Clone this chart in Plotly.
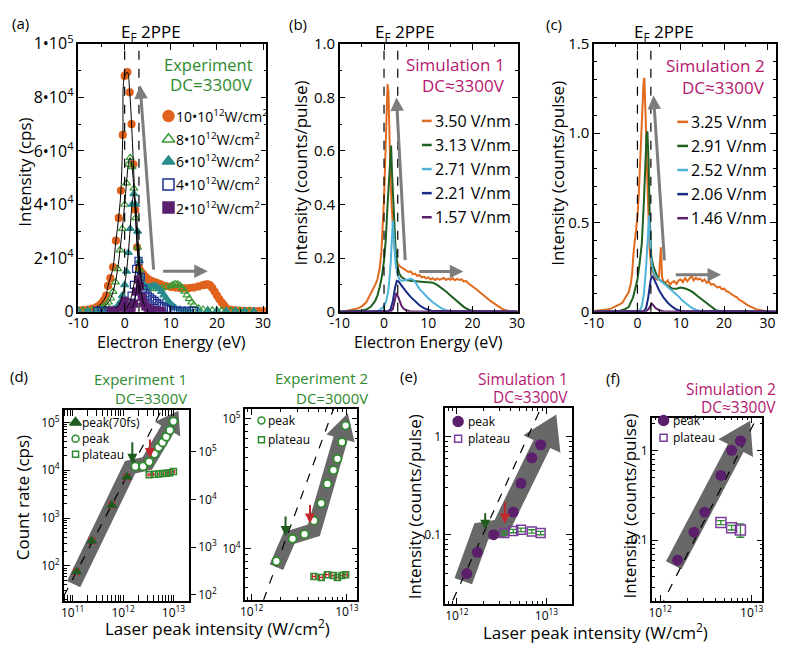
import numpy as np
import plotly.graph_objects as go

W, H = 787, 655
FONT = "Open Sans"

# ---------------- (a) Experiment spectra (eV, cps) ----------------
a10_e = [-10,-9,-8,-7,-6,-5.5,-5,-4.5,-4,-3.6, -3.1,-2.5,-1.9,-1.3,-0.8,-0.4,0,0.6,1.1,1.5,
         1.9,2.3,2.7,3.1,3.5,4,4.5,5,5.5,6, 6.5,7,7.5,8,9,10,11,12,13,14,
         15,16,17,17.5,18,18.5,19,19.5,20,20.5, 21,21.5,22,23,24,25,26,27,28,29, 30]
a10_i = [500,600,800,1100,1700,2300,3100,4300,6000,9600, 12500,16600,26500,35000,45200,66000,88000,89400,81900,70000,
         55000,38000,24000,16500,15000,14000,13000,12200,11700,11300, 11000,10700,10400,10000,9500,9200,9000,8800,8700,8800,
         9000,9400,9900,10100,10200,9800,8800,7500,6000,4700, 3500,2400,1300,700,500,400,300,300,200,200, 200]
a8_e = [-10,-9,-8,-7,-6,-5,-4.5,-4,-3.5,-3, -2.5,-2,-1.5,-1,-0.5,0,0.4,0.8,1.2,1.6,
        2.0,2.4,2.8,3.2,3.6,4,4.5,5,6,7, 8,9,10,10.5,11,11.5,12,12.5,13,13.5,
        14,14.5,15,16,17,18,19,20,21,22, 23,24,25,26,27]
a8_i = [300,300,400,500,800,1300,1800,2500,3500,5000, 7500,11000,16000,23000,31000,40000,48000,55000,57500,54000,
        46000,35000,24000,15500,11500,10000,9300,8900,8500,8600, 8800,9200,9600,10000,10300,10200,9700,8800,7600,6200,
        4800,3500,2500,1300,800,600,500,400,400,350, 300,300,250,250,200]
a6_e = [-10,-8,-6,-4,-3,-2.5,-2,-1.5,-1,-0.5, 0,0.4,0.8,1.2,1.6,2.0,2.4,2.8,3.2,3.6,
        4,4.5,5,5.5,6,6.5,7,7.5,8,8.5, 9,9.5,10,10.5,11,12,13,14,16,18, 20,22,24,26,28]
a6_i = [300,300,300,400,600,800,1200,2000,3500,6000, 10000,15000,22000,31000,40000,44000,40000,30000,19000,13000,
        10500,9500,9000,9200,9500,9600,9300,8500,7500,6200, 5000,3800,2800,2000,1400,800,500,400,300,300, 300,250,250,200,200]
a4_e = [-6,-5,-4,-3,-2,-1,0,0.5,1,1.5, 2,2.5,3,3.5,4,4.5,5,5.5,6,6.5, 7,7.5,8,8.5,9,10,11,12,13,14,15]
a4_i = [300,300,300,300,350,500,800,1500,3000,6000, 10000,16000,19000,13000,8500,6800,6000,5300,4600,4000,
        3300,2700,2100,1600,1100,700,400,300,300,300,300]
a2_e = [-3,-2,-1,-0.5,0,0.5,1,1.5,2,2.5, 2.9,3.3,3.7,4.1,4.5,5,5.5,6,7,8]
a2_i = [300,300,500,2000,4000,2000,800,1200,3000,7500, 12000,9500,5500,3200,2000,1300,900,600,400,300]
a_labels = ["10•10<sup>12</sup>W/cm<sup>2</sup>", "8•10<sup>12</sup>W/cm<sup>2</sup>", "6•10<sup>12</sup>W/cm<sup>2</sup>",
            "4•10<sup>12</sup>W/cm<sup>2</sup>", "2•10<sup>12</sup>W/cm<sup>2</sup>"]

# ---------------- (b) Simulation 1 spectra ----------------
b1_e = [-10,-8,-6,-5,-4,-3,-2.5,-2,-1.5,-1, -0.6,-0.3,0,0.3,0.6,0.8,1.0,1.25,1.5,1.7,
        2.0,2.3,2.7,3.1,3.5,4,4.5,5,5.5,6, 6.5,7,7.5,8,8.5,9,9.5,10,10.5,11,
        11.5,12,12.5,13,13.5,14,14.5,15,15.5,16, 16.5,17,17.5,18,18.5,19,19.5,20,20.5,21,
        21.5,22,22.5,23,23.5,24,24.5,25,25.5,26, 26.5,27,28,29,30.2]
b1_v = [0.0,0.004,0.012,0.02,0.035,0.065,0.08,0.1,0.12,0.16, 0.22,0.3,0.42,0.58,0.78,0.85,0.82,0.62,0.48,0.4,
        0.31,0.25,0.2,0.18,0.17,0.165,0.16,0.155,0.148,0.15, 0.14,0.142,0.133,0.137,0.128,0.131,0.124,0.128,0.12,0.125,
        0.118,0.124,0.119,0.122,0.126,0.118,0.123,0.119,0.125,0.117, 0.122,0.118,0.121,0.112,0.115,0.106,0.1,0.096,0.088,0.082,
        0.074,0.068,0.06,0.054,0.047,0.04,0.034,0.028,0.022,0.016, 0.011,0.007,0.003,0.001,0.0]
b2_e = [-10,-5,-4,-3,-2,-1.5,-1,-0.5,0,0.4, 0.8,1.1,1.4,1.6,1.8,2.0,2.3,2.6,3.0,3.5,
        4,4.5,5,6,7,8,9,10,11,12, 13,14,15,16,17,18,19,20,21,30.2]
b2_v = [0,0.004,0.008,0.018,0.04,0.06,0.09,0.13,0.19,0.27, 0.4,0.5,0.6,0.62,0.52,0.44,0.33,0.24,0.17,0.14,
        0.128,0.122,0.118,0.115,0.113,0.112,0.111,0.11,0.108,0.1, 0.088,0.075,0.06,0.045,0.03,0.018,0.008,0.003,0.001,0]
b3_e = [-10,-2,-1,0,0.5,1,1.5,1.8,2.0,2.3, 2.6,3,3.5,4,5,6,6.5,7,8,9, 10,11,12,13,14,15,16,30.2]
b3_v = [0,0.001,0.005,0.02,0.04,0.08,0.18,0.3,0.34,0.26, 0.18,0.14,0.12,0.115,0.12,0.123,0.12,0.112,0.085,0.066,
        0.05,0.035,0.022,0.012,0.005,0.002,0.0,0]
b4_e = [-10,1,1.5,2,2.5,2.9,3.3,3.8,4.5,5,6,7,8,9,10,11,30.2]
b4_v = [0,0.002,0.01,0.04,0.09,0.115,0.112,0.1,0.085,0.075,0.055,0.038,0.024,0.013,0.006,0.002,0]
b5_e = [-10,1.5,2,2.4,2.8,3.2,3.6,4,4.5,5,6,30.2]
b5_v = [0,0.001,0.01,0.04,0.07,0.055,0.035,0.02,0.01,0.005,0.001,0]
b_labels = ["3.50 V/nm", "3.13 V/nm", "2.71 V/nm", "2.21 V/nm", "1.57 V/nm"]

# ---------------- (c) Simulation 2 spectra ----------------
c1_e = [-10,-8,-7,-6,-5,-4,-3.5,-3,-2.5,-2, -1.5,-1.2,-0.9,-0.6,-0.3,0,0.3,0.6,0.9,1.2,
        1.4,1.6,1.8,2.0,2.2,2.5,2.8,3.2,3.6,4.0, 4.5,5,5.4,5.7,6,6.5,7,7.5,8,8.5,
        9,9.5,10,10.5,11,11.5,12,12.5,13,13.5, 14,14.5,15,15.5,16,16.5,17,17.5,18,18.5,
        19,19.5,20,20.5,21,21.5,22,22.5,23,23.5, 24,24.5,25,25.5,26,26.5,27,27.5,28,29, 30,32]
c1_v = [0.004,0.008,0.012,0.018,0.028,0.042,0.05,0.07,0.085,0.11, 0.16,0.22,0.33,0.4,0.45,0.53,0.65,0.83,1.0,1.15,
        1.28,1.31,1.2,1.0,0.8,0.55,0.35,0.25,0.215,0.19, 0.18,0.2,0.36,0.19,0.17,0.16,0.175,0.15,0.165,0.17,
        0.155,0.175,0.18,0.165,0.19,0.17,0.185,0.2,0.175,0.19, 0.18,0.185,0.17,0.18,0.16,0.17,0.15,0.155,0.145,0.135,
        0.14,0.125,0.13,0.115,0.11,0.1,0.095,0.085,0.08,0.065, 0.06,0.05,0.045,0.035,0.03,0.022,0.018,0.012,0.01,0.004,
        0.002,0]
c2_e = [-10,-4,-3,-2,-1,0,0.5,1,1.5,1.8, 2.1,2.3,2.55,2.85,3.2,3.6,4,4.5,5,6,
        7,8,9,10,11,12,13,14,15,16, 17,18,19,32]
c2_v = [0,0.005,0.012,0.027,0.08,0.18,0.27,0.38,0.62,0.82, 0.99,1.01,0.86,0.52,0.31,0.26,0.23,0.2,0.18,0.16,
        0.145,0.13,0.128,0.135,0.13,0.12,0.105,0.085,0.065,0.045, 0.025,0.01,0.003,0]
c3_e = [-10,0.5,1,1.5,2,2.4,2.7,3.0,3.3,3.8, 4.5,5.5,6.5,7.5,8.5,9.5,10.5,11.5,12.5,13.5, 14.5,32]
c3_v = [0,0.005,0.03,0.1,0.25,0.45,0.54,0.38,0.26,0.21, 0.19,0.17,0.15,0.13,0.11,0.085,0.06,0.04,0.022,0.01, 0.003,0]
c4_e = [-10,1.5,2,2.5,3,3.3,3.7,4.2,5,6,7,8,9,10,32]
c4_v = [0,0.003,0.02,0.08,0.17,0.2,0.19,0.16,0.12,0.08,0.05,0.028,0.012,0.004,0]
c5_e = [-10,2,2.6,3,3.3,3.7,4.2,5,6,32]
c5_v = [0,0.002,0.015,0.035,0.045,0.035,0.02,0.008,0.002,0]
c_labels = ["3.25 V/nm", "2.91 V/nm", "2.52 V/nm", "2.06 V/nm", "1.46 V/nm"]

# ---------------- (d) Experiment 1 / 2 (W/cm^2 vs cps) ----------------
d1_tri_x = [1.2e11, 2.4e11, 6.0e11, 1.2e12]
d1_tri_y = [76, 330, 1850, 7200]
d1_peak_x = [1.75e12, 2.5e12, 3.3e12, 4.2e12, 5.1e12, 6.1e12, 7.2e12, 8.5e12, 1.0e13]
d1_peak_y = [1.2e4, 1.2e4, 1.5e4, 2.2e4, 3.0e4, 3.8e4, 5.0e4, 6.8e4, 1.05e5]
d1_plat_x = [3.3e12, 4.2e12, 5.1e12, 6.1e12, 7.2e12, 8.5e12, 1.0e13]
d1_plat_y = [8.0e3, 8.2e3, 8.3e3, 8.5e3, 8.6e3, 8.8e3, 9.4e3]
d2_peak_x = [1.82e12, 2.69e12, 3.59e12, 4.51e12, 5.38e12, 6.24e12, 7.23e12, 7.96e12, 8.89e12, 9.7e12]
d2_peak_y = [8.0e3, 1.19e4, 1.29e4, 1.64e4, 2.23e4, 3.14e4, 4.01e4, 4.9e4, 6.59e4, 8.83e4]
d2_plat_x = [4.51e12, 5.38e12, 6.24e12, 7.23e12, 7.96e12, 8.89e12, 9.7e12]
d2_plat_y = [6.1e3, 6.0e3, 6.3e3, 6.2e3, 6.0e3, 6.2e3, 6.3e3]
# ---------------- (e), (f) simulations ----------------
e_peak_x = [1.29e12, 1.69e12, 2.57e12, 4.26e12, 5.2e12, 6.85e12, 8.6e12]
e_peak_y = [0.040, 0.066, 0.10, 0.17, 0.335, 0.61, 0.83]
e_plat_x = [3.37e12, 4.26e12, 5.2e12, 6.85e12, 8.6e12]
e_plat_y = [0.104, 0.109, 0.112, 0.108, 0.104]
f_peak_x = [1.55e12, 2.34e12, 3.06e12, 4.61e12, 6.04e12, 7.53e12]
f_peak_y = [0.060, 0.123, 0.205, 0.526, 1.0, 1.27]
f_plat_x = [4.61e12, 6.04e12, 7.53e12]
f_plat_y = [0.157, 0.138, 0.130]
f_plat_err = [0.008, 0.008, 0.022]

# ---------------- colours ----------------
ORANGE = "#e0621c"; GREEN_L = "#3c9a36"; TEAL = "#2a8c8c"; NAVY = "#1f2f8f"; PURPLE = "#5b1e6e"
S_ORANGE = "#e06a1e"; S_GREEN = "#1f5f20"; S_BLUE = "#4fb3d9"; S_NAVY = "#1c2a86"; S_PURPLE = "#5c1f6a"
T_GREEN = "#2e8a2e"; T_MAG = "#b5176f"; D_GREEN = "#1f5a1f"; RED = "#c0282d"; PUR = "#5b1f6b"; PUR_L = "#7b3d9b"
BAND = "rgba(88,88,88,0.9)"

# ---------------- panel geometry (pixels) ----------------
GEO = {
    "a": dict(x=(70, 262), y=(32, 310), xr=(-10, 30.7), yr=(0, 1e5)),
    "b": dict(x=(337, 519), y=(32, 310), xr=(-10, 30.2), yr=(0, 1.0)),
    "c": dict(x=(597, 783), y=(32, 310), xr=(-10, 32), yr=(0, 1.5)),
    "d1": dict(x=(55, 183), y=(412, 610), xr=(10.825, 13.31), yr=(1.275, 5.26)),
    "d2": dict(x=(240, 355), y=(411, 609), xr=(11.928, 13.11), yr=(3.607, 5.074)),
    "e": dict(x=(445, 574), y=(410, 613), xr=(11.872, 13.28), yr=(-1.704, 0.295)),
    "f": dict(x=(656, 769), y=(420, 610), xr=(11.909, 13.117), yr=(-1.672, 0.364)),
}

def dx(g): return [g["x"][0] / W, g["x"][1] / W]
def dy(g): return [1 - g["y"][1] / H, 1 - g["y"][0] / H]
def fx(p): return p / W
def fy(p): return 1 - p / H

def base_axis(size):
    return dict(ticks="inside", ticklen=6, tickwidth=1.2, tickcolor="black", showline=True,
                linecolor="black", linewidth=1.5, mirror="allticks", showgrid=False, zeroline=False,
                tickfont=dict(family=FONT, size=size, color="black"), tickmode="array")

def minor(vals, ticks="inside"):
    return dict(tickmode="array", tickvals=vals, ticks=ticks, ticklen=3, tickwidth=1, tickcolor="black", showgrid=False)

def sup(p): return "10<sup>%d</sup>" % p

TOPF = 15
XTOPF = 14
BOTF = 12
layout_axes = {}
# (a)
g = GEO["a"]
ax = base_axis(XTOPF); ax.update(domain=dx(g), range=list(g["xr"]), tickvals=[-10, 0, 10, 20, 30],
                                 ticktext=["-10", "0", "10", "20", "30"], minor=minor([-5, 5, 15, 25]), anchor="y",
                                 ticklabelstandoff=-2)
layout_axes["xaxis"] = ax
ay = base_axis(16); ay.update(domain=dy(g), range=list(g["yr"]), tickvals=[0, 2e4, 4e4, 6e4, 8e4, 1e5],
                              ticktext=["0", "2•10<sup>4</sup>", "4•10<sup>4</sup>", "6•10<sup>4</sup>", "8•10<sup>4</sup>", "1•10<sup>5</sup>"],
                              minor=minor([1e4, 3e4, 5e4, 7e4, 9e4]), anchor="x")
layout_axes["yaxis"] = ay
# (b)
g = GEO["b"]
ax = base_axis(XTOPF); ax.update(domain=dx(g), range=list(g["xr"]), tickvals=[-10, 0, 10, 20, 30],
                                 ticktext=["-10", "0", "10", "20", "30"], minor=minor([-5, 5, 15, 25]), anchor="y2",
                                 ticklabelstandoff=-2)
layout_axes["xaxis2"] = ax
ay = base_axis(TOPF); ay.update(domain=dy(g), range=list(g["yr"]), tickvals=[0, 0.2, 0.4, 0.6, 0.8, 1.0],
                                ticktext=["0", "0.2", "0.4", "0.6", "0.8", "1.0"], minor=minor([0.1, 0.3, 0.5, 0.7, 0.9]), anchor="x2")
layout_axes["yaxis2"] = ay
# (c)
g = GEO["c"]
ax = base_axis(XTOPF); ax.update(domain=dx(g), range=list(g["xr"]), tickvals=[-10, 0, 10, 20, 30],
                                 ticktext=["-10", "0", "10", "20", "30"], minor=minor([-5, 5, 15, 25]), anchor="y3",
                                 ticklabelstandoff=-2)
layout_axes["xaxis3"] = ax
ay = base_axis(TOPF); ay.update(domain=dy(g), range=list(g["yr"]), tickvals=[0, 0.5, 1.0, 1.5],
                                ticktext=["0", "0.5", "1.0", "1.5"],
                                minor=minor([0.1, 0.2, 0.3, 0.4, 0.6, 0.7, 0.8, 0.9, 1.1, 1.2, 1.3, 1.4]), anchor="x3")
layout_axes["yaxis3"] = ay

def log_minor(d0, d1):
    return [k * 10.0 ** d for d in range(d0, d1) for k in range(2, 10)]

# (d) Experiment 1
g = GEO["d1"]
ax = base_axis(BOTF); ax.update(type="log", domain=dx(g), range=list(g["xr"]), tickvals=[1e11, 1e12, 1e13],
                                ticktext=[sup(11), sup(12), sup(13)], minor=minor(log_minor(10, 14)), anchor="y4")
layout_axes["xaxis4"] = ax
ay = base_axis(BOTF); ay.update(type="log", domain=dy(g), range=list(g["yr"]), tickvals=[1e2, 1e3, 1e4, 1e5],
                                ticktext=[sup(2), sup(3), sup(4), sup(5)], minor=minor(log_minor(1, 6)), anchor="x4", mirror=False)
layout_axes["yaxis4"] = ay
ay = base_axis(BOTF); ay.update(type="log", range=[1.879, 5.879], tickvals=[1e2, 1e3, 1e4, 1e5],
                                ticktext=[sup(2), sup(3), sup(4), sup(5)], overlaying="y4", side="right",
                                anchor="x4", mirror=False, ticks="outside", ticklen=5)
layout_axes["yaxis5"] = ay
# (d) Experiment 2
g = GEO["d2"]
ax = base_axis(BOTF); ax.update(type="log", domain=dx(g), range=list(g["xr"]), tickvals=[1e12, 1e13],
                                ticktext=[sup(12), sup(13)], minor=minor(log_minor(11, 14)), anchor="y6")
layout_axes["xaxis5"] = ax
ay = base_axis(BOTF); ay.update(type="log", domain=dy(g), range=list(g["yr"]), tickvals=[1e4, 1e5],
                                ticktext=[sup(4), sup(5)], minor=minor(log_minor(3, 6)), anchor="x5")
layout_axes["yaxis6"] = ay
# (e)
g = GEO["e"]
ax = base_axis(BOTF); ax.update(type="log", domain=dx(g), range=list(g["xr"]), tickvals=[1e12, 1e13],
                                ticktext=[sup(12), sup(13)], minor=minor(log_minor(11, 14)), anchor="y7")
layout_axes["xaxis6"] = ax
ay = base_axis(BOTF); ay.update(type="log", domain=dy(g), range=list(g["yr"]), tickvals=[0.1, 1],
                                ticktext=["0.1", "1"], minor=minor(log_minor(-2, 1)), anchor="x6")
layout_axes["yaxis7"] = ay
# (f)
g = GEO["f"]
ax = base_axis(BOTF); ax.update(type="log", domain=dx(g), range=list(g["xr"]), tickvals=[1e12, 1e13],
                                ticktext=[sup(12), sup(13)], minor=minor(log_minor(11, 14)), anchor="y8")
layout_axes["xaxis7"] = ax
ay = base_axis(BOTF); ay.update(type="log", domain=dy(g), range=list(g["yr"]), tickvals=[0.1, 1],
                                ticktext=["0.1", "1"], minor=minor(log_minor(-2, 1)), anchor="x7")
layout_axes["yaxis8"] = ay
# pixel-space overlay for legend keys
layout_axes["xaxis8"] = dict(domain=[0, 1], range=[0, W], visible=False, anchor="y9", fixedrange=True)
layout_axes["yaxis9"] = dict(domain=[0, 1], range=[H, 0], visible=False, anchor="x8", fixedrange=True)

fig = go.Figure()

# ---------------- (a) traces ----------------
a_series = [(a10_e, a10_i, "circle", ORANGE), (a8_e, a8_i, "triangle-up-open", GREEN_L),
            (a6_e, a6_i, "triangle-up", TEAL), (a4_e, a4_i, "square-open", NAVY), (a2_e, a2_i, "square", PURPLE)]
for e, i, sym, col in a_series:
    fig.add_trace(go.Scatter(x=e, y=i, mode="markers", xaxis="x", yaxis="y", showlegend=False,
                             marker=dict(symbol=sym, size=7, color=col, line=dict(width=1.2, color=col))))
fit_windows = [(-6, 3.2), (-4.5, 3.4), (-2, 3.8), (0, 4.2), (1.2, 4.5)]
for (e, i, _, _), (lo, hi) in zip(a_series, fit_windows):
    sel = [(x, y) for x, y in zip(e, i) if lo <= x <= hi]
    fig.add_trace(go.Scatter(x=[s[0] for s in sel], y=[s[1] for s in sel], mode="lines", line_shape="spline",
                             line=dict(color="black", width=1), xaxis="x", yaxis="y", showlegend=False))

# ---------------- (b), (c) traces ----------------
b_series = [(b1_e, b1_v, S_ORANGE), (b2_e, b2_v, S_GREEN), (b3_e, b3_v, S_BLUE), (b4_e, b4_v, S_NAVY), (b5_e, b5_v, S_PURPLE)]
c_series = [(c1_e, c1_v, S_ORANGE), (c2_e, c2_v, S_GREEN), (c3_e, c3_v, S_BLUE), (c4_e, c4_v, S_NAVY), (c5_e, c5_v, S_PURPLE)]
for series, xa, ya in [(b_series, "x2", "y2"), (c_series, "x3", "y3")]:
    for e, v, col in series:
        fig.add_trace(go.Scatter(x=e, y=v, mode="lines", line=dict(color=col, width=2),
                                 xaxis=xa, yaxis=ya, showlegend=False))

# ---------------- grey band arrows (log panels) ----------------
def band_arrow(lx, ly, sx, sy, w, hw, hl):
    P = np.column_stack([np.asarray(lx, float) * sx, np.asarray(ly, float) * sy])
    tip = P[-1]
    d = P[-1] - P[-2]
    u = d / np.hypot(*d)
    base = tip - u * hl
    pts = np.vstack([P[:-1], base])
    def perp(v): return np.array([-v[1], v[0]])
    left, right = [], []
    n = len(pts)
    for k in range(n):
        if k == 0 or k == n - 1:
            t = pts[1] - pts[0] if k == 0 else pts[-1] - pts[-2]
            t = t / np.hypot(*t)
            off = perp(t) * w / 2
        else:
            t1 = pts[k] - pts[k - 1]; t1 = t1 / np.hypot(*t1)
            t2 = pts[k + 1] - pts[k]; t2 = t2 / np.hypot(*t2)
            m = perp(t1) + perp(t2); m = m / np.hypot(*m)
            off = m * (w / 2) / np.dot(m, perp(t1))
        left.append(pts[k] + off); right.append(pts[k] - off)
    nu = perp(u)
    poly = left + [base + nu * hw / 2, tip, base - nu * hw / 2] + right[::-1] + [left[0]]
    poly = np.array(poly)
    return 10 ** (poly[:, 0] / sx), 10 ** (poly[:, 1] / sy)

def scale(g):
    return ((g["x"][1] - g["x"][0]) / (g["xr"][1] - g["xr"][0]),
            (g["y"][1] - g["y"][0]) / (g["yr"][1] - g["yr"][0]))

bands = [
    ("d1", "x4", "y4", [11.02, 12.14, 12.48, 13.10], [1.62, 4.06, 4.14, 5.24], 15, 30, 22),
    ("d2", "x5", "y6", [12.26, 12.394, 12.654, 13.01], [3.858, 4.082, 4.141, 5.04], 15, 30, 27),
    ("e", "x6", "y7", [12.072, 12.273, 12.491, 13.109], [-1.475, -0.967, -0.934, 0.229], 19, 42, 34),
    ("f", "x7", "y8", [12.149, 12.983], [-1.279, 0.329], 18, 40, 32),
]
for key, xa, ya, lx, ly, w, hw, hl in bands:
    sx, sy = scale(GEO[key])
    bx, by = band_arrow(lx, ly, sx, sy, w, hw, hl)
    fig.add_trace(go.Scatter(x=bx, y=by, mode="lines", fill="toself", fillcolor=BAND, line=dict(width=0),
                             xaxis=xa, yaxis=ya, showlegend=False, hoverinfo="skip"))

# slope-2 guide lines (dashed)
guides = [("d1", "x4", "y4", 1.2e11, 76.0), ("d2", "x5", "y6", 10 ** 12.115, 10 ** 3.585),
          ("e", "x6", "y7", 10 ** 11.963, 10 ** -1.655), ("f", "x7", "y8", 10 ** 12.039, 10 ** -1.672)]
for key, xa, ya, x0, y0 in guides:
    gx = np.logspace(GEO[key]["xr"][0], GEO[key]["xr"][1], 40)
    fig.add_trace(go.Scatter(x=gx, y=y0 * (gx / x0) ** 2, mode="lines", line=dict(color="black", width=1.2, dash="dash"),
                             xaxis=xa, yaxis=ya, showlegend=False, hoverinfo="skip"))

def rel_err(xs, f): return [f * v for v in xs]

# (d) Experiment 1
fig.add_trace(go.Scatter(x=d1_plat_x, y=d1_plat_y, mode="markers", xaxis="x4", yaxis="y4", showlegend=False,
                         error_x=dict(type="data", array=rel_err(d1_plat_x, 0.05), color=RED, thickness=1.3, width=2),
                         marker=dict(symbol="square-open", size=6, color=T_GREEN, line=dict(width=1.5, color=T_GREEN))))
fig.add_trace(go.Scatter(x=d1_tri_x, y=d1_tri_y, mode="markers", xaxis="x4", yaxis="y4", showlegend=False,
                         error_x=dict(type="data", array=rel_err(d1_tri_x, 0.12), color=RED, thickness=1.3, width=4),
                         marker=dict(symbol="triangle-up", size=10, color=D_GREEN)))
fig.add_trace(go.Scatter(x=d1_peak_x, y=d1_peak_y, mode="markers", xaxis="x4", yaxis="y4", showlegend=False,
                         error_x=dict(type="data", array=rel_err(d1_peak_x, 0.06), color=RED, thickness=1.3, width=3),
                         marker=dict(symbol="circle", size=8, color="white", line=dict(width=1.8, color=T_GREEN))))
fig.add_trace(go.Scatter(x=[1e12], y=[1e3], mode="markers", xaxis="x4", yaxis="y5", showlegend=False,
                         marker=dict(size=1, color="rgba(0,0,0,0)"), hoverinfo="skip"))
# (d) Experiment 2
fig.add_trace(go.Scatter(x=d2_plat_x, y=d2_plat_y, mode="markers", xaxis="x5", yaxis="y6", showlegend=False,
                         error_x=dict(type="data", array=rel_err(d2_plat_x, 0.04), color=RED, thickness=1.3, width=3),
                         marker=dict(symbol="square-open", size=6, color=T_GREEN, line=dict(width=1.5, color=T_GREEN))))
fig.add_trace(go.Scatter(x=d2_peak_x, y=d2_peak_y, mode="markers", xaxis="x5", yaxis="y6", showlegend=False,
                         error_x=dict(type="data", array=rel_err(d2_peak_x, 0.06), color=RED, thickness=1.5, width=4),
                         marker=dict(symbol="circle", size=8, color="white", line=dict(width=1.8, color=T_GREEN))))
# (e)
fig.add_trace(go.Scatter(x=e_plat_x, y=e_plat_y, mode="markers", xaxis="x6", yaxis="y7", showlegend=False,
                         error_y=dict(type="data", array=rel_err(e_plat_y, 0.04), color=T_GREEN, thickness=1.3, width=4),
                         marker=dict(symbol="square-open", size=9, color=PUR_L, line=dict(width=1.5, color=PUR_L))))
fig.add_trace(go.Scatter(x=e_peak_x, y=e_peak_y, mode="markers", xaxis="x6", yaxis="y7", showlegend=False,
                         marker=dict(symbol="circle", size=11, color=PUR)))
# (f)
fig.add_trace(go.Scatter(x=f_plat_x, y=f_plat_y, mode="markers", xaxis="x7", yaxis="y8", showlegend=False,
                         error_y=dict(type="data", array=f_plat_err, color=T_GREEN, thickness=1.3, width=4),
                         marker=dict(symbol="square-open", size=10, color=PUR_L, line=dict(width=1.5, color=PUR_L))))
fig.add_trace(go.Scatter(x=f_peak_x, y=f_peak_y, mode="markers", xaxis="x7", yaxis="y8", showlegend=False,
                         marker=dict(symbol="circle", size=11, color=PUR)))

# ---------------- legend keys (pixel overlay) ----------------
annotations = []
def txt(x, y, s, size=14, color="black", xanchor="center", angle=0):
    annotations.append(dict(x=fx(x), y=fy(y), xref="paper", yref="paper", text=s, showarrow=False,
                            font=dict(family=FONT, size=size, color=color), xanchor=xanchor, yanchor="middle",
                            textangle=angle))

def key_marker(x, y, sym, size, col, fill=None, lw=1.5):
    fig.add_trace(go.Scatter(x=[x], y=[y], mode="markers", xaxis="x8", yaxis="y9", showlegend=False, hoverinfo="skip",
                             marker=dict(symbol=sym, size=size, color=fill if fill else col, line=dict(width=lw, color=col))))

def key_line(x0, x1, y, col):
    fig.add_trace(go.Scatter(x=[x0, x1], y=[y, y], mode="lines", xaxis="x8", yaxis="y9", showlegend=False,
                             hoverinfo="skip", line=dict(color=col, width=2.5)))

rows_a = [107, 131, 154, 178, 202]
for (e, i, sym, col), yy, lab in zip(a_series, rows_a, a_labels):
    key_marker(162, yy, sym, 11, col)
    txt(168, yy, lab, 14, xanchor="left")
rows_b = [112, 137, 162, 187, 212]
for (e, v, col), yy, lab in zip(b_series, rows_b, b_labels):
    key_line(421, 431, yy, col)
    txt(432, yy, lab, 16, xanchor="left")
rows_c = [113, 138, 163, 188, 213]
for (e, v, col), yy, lab in zip(c_series, rows_c, c_labels):
    key_line(682, 693, yy, col)
    txt(694, yy, lab, 16, xanchor="left")

key_marker(67, 425, "triangle-up", 10, D_GREEN); txt(72, 425, "peak(70fs)", 12, xanchor="left")
key_marker(67, 442, "circle", 7, T_GREEN, fill="white"); txt(72, 442, "peak", 12, xanchor="left")
key_marker(67, 458, "square-open", 6, T_GREEN); txt(72, 458, "plateau", 12, xanchor="left")
key_marker(257, 423, "circle", 7, T_GREEN, fill="white"); txt(262, 423, "peak", 12, xanchor="left")
key_marker(257, 443, "square-open", 6, T_GREEN); txt(262, 443, "plateau", 12, xanchor="left")
key_marker(458, 424, "circle", 10, PUR); txt(466, 424, "peak", 12, xanchor="left")
key_marker(458, 442, "square-open", 7, PUR_L); txt(466, 442, "plateau", 12, xanchor="left")
key_marker(668, 423, "circle", 10, PUR); txt(676, 423, "peak", 12, xanchor="left")
key_marker(668, 441, "square-open", 7, PUR_L); txt(676, 441, "plateau", 12, xanchor="left")

# ---------------- arrows ----------------
def garrow(xr, yr, x0, y0, x1, y1):
    annotations.append(dict(xref=xr, yref=yr, axref=xr, ayref=yr, x=x1, y=y1, ax=x0, ay=y0, text="",
                            showarrow=True, arrowhead=2, arrowsize=0.9, arrowwidth=3, arrowcolor="#7d7d7d"))
garrow("x", "y", 6.3, 15100, 3.35, 84500); garrow("x", "y", 8.0, 15100, 18.0, 15100)
garrow("x2", "y2", 4.8, 0.187, 2.8, 0.80); garrow("x2", "y2", 7.6, 0.15, 17.9, 0.15)
garrow("x3", "y3", 6.25, 0.279, 3.7, 1.21); garrow("x3", "y3", 8.5, 0.207, 19.3, 0.207)

def darrow(xr, yr, xv, yv, col, L):
    annotations.append(dict(xref=xr, yref=yr, x=np.log10(xv), y=np.log10(yv), ax=0, ay=-L, text="",
                            showarrow=True, arrowhead=2, arrowsize=1, arrowwidth=2, arrowcolor=col))
darrow("x4", "y4", 1.53e12, 1.36e4, D_GREEN, 23); darrow("x4", "y4", 3.42e12, 1.8e4, RED, 20)
darrow("x5", "y6", 2.27e12, 1.25e4, D_GREEN, 21); darrow("x5", "y6", 4.1e12, 1.56e4, RED, 20)
darrow("x6", "y7", 2.07e12, 0.112, D_GREEN, 18); darrow("x6", "y7", 3.43e12, 0.13, RED, 23)

# dashed E_F and 2PPE markers
shapes = []
for xr in ["x", "x2", "x3"]:
    for xv in [0, 3.1]:
        shapes.append(dict(type="line", xref=xr, yref=xr.replace("x", "y") + " domain", x0=xv, x1=xv, y0=0, y1=1,
                           line=dict(color="black", width=1.2, dash="dash")))

# ---------------- texts ----------------
txt(11, 10, "(a)", 15); txt(294, 11, "(b)", 15); txt(556, 11, "(c)", 15)
txt(9, 377, "(d)", 15); txt(407, 377, "(e)", 15); txt(616, 379, "(f)", 15)
for x0 in [111, 371, 636]:
    txt(x0, 20, "E<sub>F</sub> 2PPE", 17, xanchor="left")
txt(250, 53, "Experiment", 16.5, T_GREEN, xanchor="right"); txt(250, 74, "DC=3300V", 17, T_GREEN, xanchor="right")
txt(508, 53, "Simulation 1", 17, T_MAG, xanchor="right"); txt(508, 75, "DC≈3300V", 17, T_MAG, xanchor="right")
txt(774, 55, "Simulation 2", 17, T_MAG, xanchor="right"); txt(774, 77, "DC≈3300V", 17, T_MAG, xanchor="right")
txt(183, 380, "Experiment 1", 15, T_GREEN, xanchor="right"); txt(183, 400, "DC=3300V", 15, T_GREEN, xanchor="right")
txt(368, 379, "Experiment 2", 15, T_GREEN, xanchor="right"); txt(368, 400, "DC=3000V", 15, T_GREEN, xanchor="right")
txt(572, 380, "Simulation 1", 15.5, T_MAG, xanchor="right"); txt(572, 399, "DC≈3300V", 15.5, T_MAG, xanchor="right")
txt(785, 390, "Simulation 2", 15.5, T_MAG, xanchor="right"); txt(785, 409, "DC≈3300V", 15.5, T_MAG, xanchor="right")
txt(15, 165, "Intensity (cps)", 17, angle=-90)
txt(297, 166, "Intensity (counts/pulse)", 17, angle=-90)
txt(560, 166, "Intensity (counts/pulse)", 17, angle=-90)
txt(165, 341, "Electron Energy (eV)", 16); txt(428, 341, "Electron Energy (eV)", 16)
txt(13, 503, "Count rate (cps)", 17, angle=-90)
txt(413, 513, "Intensity (counts/pulse)", 17, angle=-90)
txt(633, 512, "Intensity (counts/pulse)", 17, angle=-90)
txt(212, 638, "Laser peak intensity (W/cm<sup>2</sup>)", 17)
txt(598, 642, "Laser peak intensity (W/cm<sup>2</sup>)", 17)

fig.update_layout(width=W, height=H, margin=dict(l=0, r=0, t=0, b=0), paper_bgcolor="white",
                  plot_bgcolor="rgba(0,0,0,0)", showlegend=False, font=dict(family=FONT, color="black"),
                  annotations=annotations, shapes=shapes, **layout_axes)
fig.write_html("out.html", config={"displayModeBar": False},
               post_script="document.body.style.margin='0px';document.body.style.overflow='hidden';")
